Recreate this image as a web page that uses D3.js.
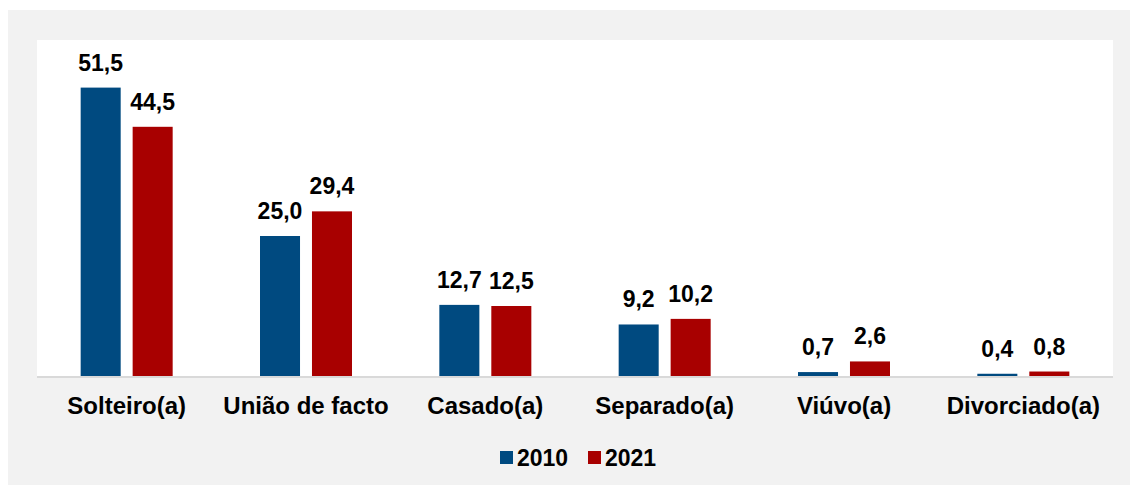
<!DOCTYPE html>
<html>
<head>
<meta charset="utf-8">
<script src="https://cdn.jsdelivr.net/npm/d3@7"></script>
<style>
  body { margin: 0; background: #fff; }
  text { font-family: "Liberation Sans", Arial, sans-serif; font-weight: bold; fill: #000; }
</style>
</head>
<body>
<svg width="1130" height="485"></svg>
<script>
var categories = ["Solteiro(a)", "União de facto", "Casado(a)", "Separado(a)", "Viúvo(a)", "Divorciado(a)"];
var years = ["2010", "2021"];
var values2010 = [51.5, 25.0, 12.7, 9.2, 0.7, 0.4];
var values2021 = [44.5, 29.4, 12.5, 10.2, 2.6, 0.8];

var colors = { "2010": "#004a80", "2021": "#a80000" };

var svg = d3.select("svg");

// outer grey panel and white plot area
svg.append("rect").attr("x", 8).attr("y", 10).attr("width", 1122).attr("height", 475).attr("fill", "#f2f2f2");
svg.append("rect").attr("x", 37).attr("y", 40).attr("width", 1076).attr("height", 337).attr("fill", "#fff");

var x0 = d3.scaleBand()
    .domain(categories)
    .range([37, 1113]);

var x1 = d3.scaleBand()
    .domain(years)
    .range([x0.bandwidth() / 2 - 46, x0.bandwidth() / 2 + 46])
    .paddingInner(0.23);

var y = d3.scaleLinear()
    .domain([0, 60])
    .range([376, 40]);

var rows = categories.map(function(c, i) {
  return { cat: c, vals: [ { year: "2010", v: values2010[i] }, { year: "2021", v: values2021[i] } ] };
});

var fmt = function(v) { return d3.format(".1f")(v).replace(".", ","); };

var group = svg.append("g")
  .selectAll("g")
  .data(rows)
  .enter().append("g")
    .attr("transform", function(d) { return "translate(" + x0(d.cat) + ",0)"; });

group.selectAll("rect")
  .data(function(d) { return d.vals; })
  .enter().append("rect")
    .attr("x", function(d) { return x1(d.year); })
    .attr("y", function(d) { return y(d.v); })
    .attr("width", x1.bandwidth())
    .attr("height", function(d) { return y(0) - y(d.v); })
    .attr("fill", function(d) { return colors[d.year]; });

group.selectAll("text.val")
  .data(function(d) { return d.vals; })
  .enter().append("text")
    .attr("class", "val")
    .attr("x", function(d) { return x1(d.year) + x1.bandwidth() / 2; })
    .attr("y", function(d) { return y(d.v) - 17; })
    .attr("text-anchor", "middle")
    .style("font-size", "23px")
    .text(function(d) { return fmt(d.v); });

// baseline
svg.append("line")
    .attr("x1", 37).attr("x2", 1113)
    .attr("y1", 377).attr("y2", 377)
    .attr("stroke", "#d9d9d9")
    .attr("stroke-width", 2);

// category labels
svg.append("g")
  .selectAll("text")
  .data(categories)
  .enter().append("text")
    .attr("x", function(d) { return x0(d) + x0.bandwidth() / 2; })
    .attr("y", 414)
    .attr("text-anchor", "middle")
    .style("font-size", "24px")
    .text(function(d) { return d; });

// legend
var legendX = [500, 588];
var legend = svg.append("g")
  .selectAll("g")
  .data(years)
  .enter().append("g")
    .attr("transform", function(d, i) { return "translate(" + legendX[i] + ",0)"; });

legend.append("rect")
    .attr("x", 0).attr("y", 451)
    .attr("width", 13).attr("height", 13)
    .attr("fill", function(d) { return colors[d]; });

legend.append("text")
    .attr("x", 17).attr("y", 466)
    .style("font-size", "23px")
    .text(function(d) { return d; });
</script>
</body>
</html>
